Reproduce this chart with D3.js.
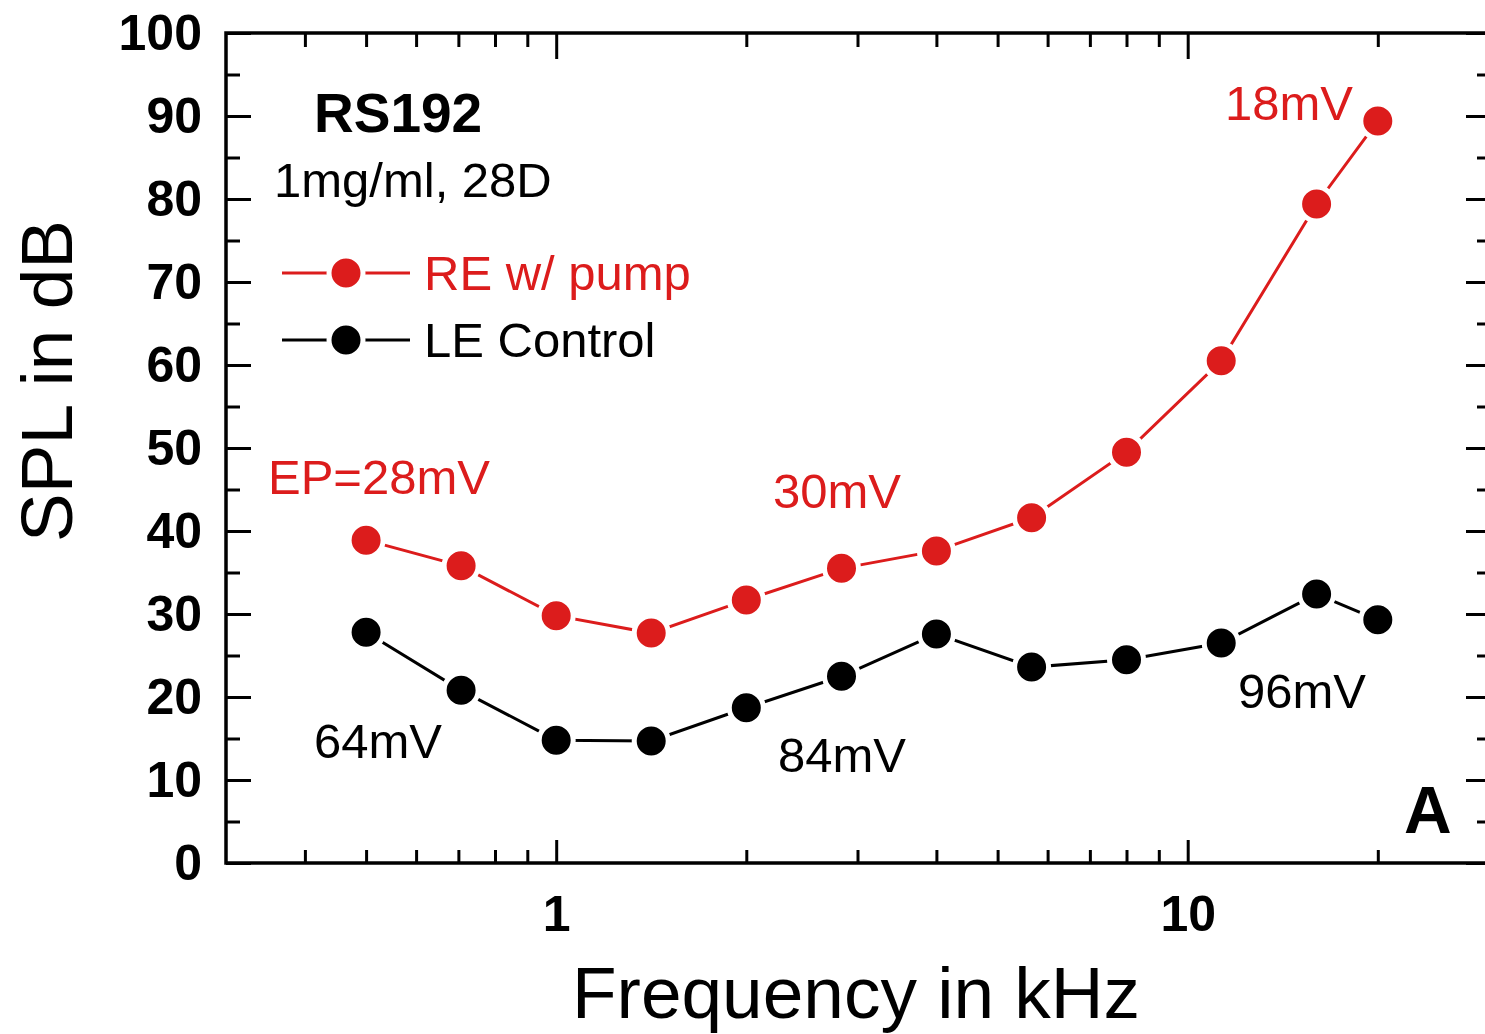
<!DOCTYPE html>
<html>
<head>
<meta charset="utf-8">
<script src="https://cdn.jsdelivr.net/npm/d3@7"></script>
<style>
  body { margin: 0; background: #fff; }
  text { font-family: "Liberation Sans", Arial, sans-serif; }
</style>
</head>
<body>
<svg id="chart"></svg>
<script>
    // ============ DATA =================
    var freqs = [0.5, 0.707, 1, 1.414, 2, 2.83, 4, 5.66, 8, 11.3, 16, 20];
    var reSpl = [38.9, 35.8, 29.8, 27.7, 31.7, 35.5, 37.6, 41.6, 49.5, 60.5, 79.4, 89.4];
    var leSpl = [27.8, 20.8, 14.8, 14.7, 18.7, 22.5, 27.6, 23.6, 24.5, 26.5, 32.4, 29.3];

    var xMajorTicks = [1, 10];
    var xMinorTicks = [0.4, 0.5, 0.6, 0.7, 0.8, 0.9, 2, 3, 4, 5, 6, 7, 8, 9, 20];
    var yMajorTicks = [0, 10, 20, 30, 40, 50, 60, 70, 80, 90, 100];
    var yMinorTicks = [5, 15, 25, 35, 45, 55, 65, 75, 85, 95];

    var redColor = "#dc1c1c";

    var svgWidth = 1485;
    var svgHeight = 1034;
    var plotLeft = 226, plotRight = 1489, plotTop = 33, plotBottom = 863;

    var svg = d3.select("#chart")
        .attr("width", svgWidth)
        .attr("height", svgHeight);

    svg.append("rect").attr("width", svgWidth).attr("height", svgHeight).attr("fill", "#fff");

    var xScale = d3.scaleLog().domain([0.3, 30]).range([plotLeft, plotRight]);
    var yScale = d3.scaleLinear().domain([0, 100]).range([plotBottom, plotTop]);

    // ============ AXES =================
    function styleAxis(g) {
        g.select(".domain").remove();
        g.selectAll(".tick line").attr("stroke", "#000").attr("stroke-width", 3);
        g.selectAll(".tick text").attr("fill", "#000").attr("font-weight", "bold").attr("font-size", 50);
    }

    // bottom
    svg.append("g").attr("transform", "translate(0," + plotBottom + ")")
        .call(d3.axisBottom(xScale).tickValues(xMinorTicks).tickSizeInner(-13).tickSizeOuter(0).tickFormat(""))
        .call(styleAxis);
    svg.append("g").attr("transform", "translate(0," + plotBottom + ")")
        .call(d3.axisBottom(xScale).tickValues(xMajorTicks).tickSizeInner(-23).tickSizeOuter(0)
            .tickPadding(32).tickFormat(d3.format("d")))
        .call(styleAxis);
    // top
    svg.append("g").attr("transform", "translate(0," + plotTop + ")")
        .call(d3.axisTop(xScale).tickValues(xMinorTicks).tickSizeInner(-14).tickSizeOuter(0).tickFormat(""))
        .call(styleAxis);
    svg.append("g").attr("transform", "translate(0," + plotTop + ")")
        .call(d3.axisTop(xScale).tickValues(xMajorTicks).tickSizeInner(-26).tickSizeOuter(0).tickFormat(""))
        .call(styleAxis);
    // left
    svg.append("g").attr("transform", "translate(" + plotLeft + ",0)")
        .call(d3.axisLeft(yScale).tickValues(yMinorTicks).tickSizeInner(-14).tickSizeOuter(0).tickFormat(""))
        .call(styleAxis);
    svg.append("g").attr("transform", "translate(" + plotLeft + ",0)")
        .call(d3.axisLeft(yScale).tickValues(yMajorTicks).tickSizeInner(-25).tickSizeOuter(0)
            .tickPadding(24).tickFormat(d3.format("d")))
        .call(styleAxis);
    // right
    svg.append("g").attr("transform", "translate(" + plotRight + ",0)")
        .call(d3.axisRight(yScale).tickValues(yMinorTicks).tickSizeInner(-12).tickSizeOuter(0).tickFormat(""))
        .call(styleAxis);
    svg.append("g").attr("transform", "translate(" + plotRight + ",0)")
        .call(d3.axisRight(yScale).tickValues(yMajorTicks).tickSizeInner(-23).tickSizeOuter(0).tickFormat(""))
        .call(styleAxis);

    // frame
    svg.append("rect")
        .attr("x", plotLeft).attr("y", plotTop)
        .attr("width", plotRight - plotLeft).attr("height", plotBottom - plotTop)
        .attr("fill", "none").attr("stroke", "#000").attr("stroke-width", 3.5);

    // ============ SERIES =================
    function drawSeries(values, color) {
        var data = freqs.map(function (f, i) { return { f: f, v: values[i] }; });
        var line = d3.line()
            .x(function (d) { return xScale(d.f); })
            .y(function (d) { return yScale(d.v); });
        svg.append("path")
            .datum(data)
            .attr("d", line)
            .attr("fill", "none")
            .attr("stroke", color)
            .attr("stroke-width", 3);
        svg.append("g").selectAll("circle")
            .data(data)
            .enter().append("circle")
            .attr("cx", function (d) { return xScale(d.f); })
            .attr("cy", function (d) { return yScale(d.v); })
            .attr("r", 17)
            .attr("fill", color)
            .attr("stroke", "#fff")
            .attr("stroke-width", 5);
    }
    drawSeries(reSpl, redColor);
    drawSeries(leSpl, "#000");

    // ============ LEGEND =================
    var legend = [
        { label: "RE w/ pump", color: redColor, y: 273 },
        { label: "LE Control", color: "#000", y: 340 }
    ];
    legend.forEach(function (d) {
        svg.append("line").attr("x1", 282).attr("x2", 410).attr("y1", d.y).attr("y2", d.y)
            .attr("stroke", d.color).attr("stroke-width", 3);
        svg.append("circle").attr("cx", 346).attr("cy", d.y).attr("r", 17)
            .attr("fill", d.color).attr("stroke", "#fff").attr("stroke-width", 5);
        svg.append("text").attr("x", 424).attr("y", d.y + 17)
            .attr("font-size", 49).attr("fill", d.color).text(d.label);
    });

    // ============ ANNOTATIONS =================
    function note(x, y, txt, color, size, weight, anchor) {
        svg.append("text").attr("x", x).attr("y", y)
            .attr("font-size", size).attr("font-weight", weight || "normal")
            .attr("text-anchor", anchor || "start")
            .attr("fill", color).text(txt);
    }
    note(314, 132, "RS192", "#000", 55, "bold");
    note(274, 197, "1mg/ml, 28D", "#000", 49);
    note(268, 494, "EP=28mV", redColor, 49);
    note(773, 508, "30mV", redColor, 49);
    note(1225, 120, "18mV", redColor, 49);
    note(314, 758, "64mV", "#000", 49);
    note(778, 772, "84mV", "#000", 49);
    note(1238, 708, "96mV", "#000", 49);
    note(1404, 833, "A", "#000", 66, "bold");

    // axis titles
    note(856, 1018, "Frequency in kHz", "#000", 73, "normal", "middle");
    svg.append("text")
        .attr("transform", "translate(72,381) rotate(-90)")
        .attr("text-anchor", "middle")
        .attr("font-size", 73)
        .attr("fill", "#000")
        .text("SPL in dB");
</script>
</body>
</html>
